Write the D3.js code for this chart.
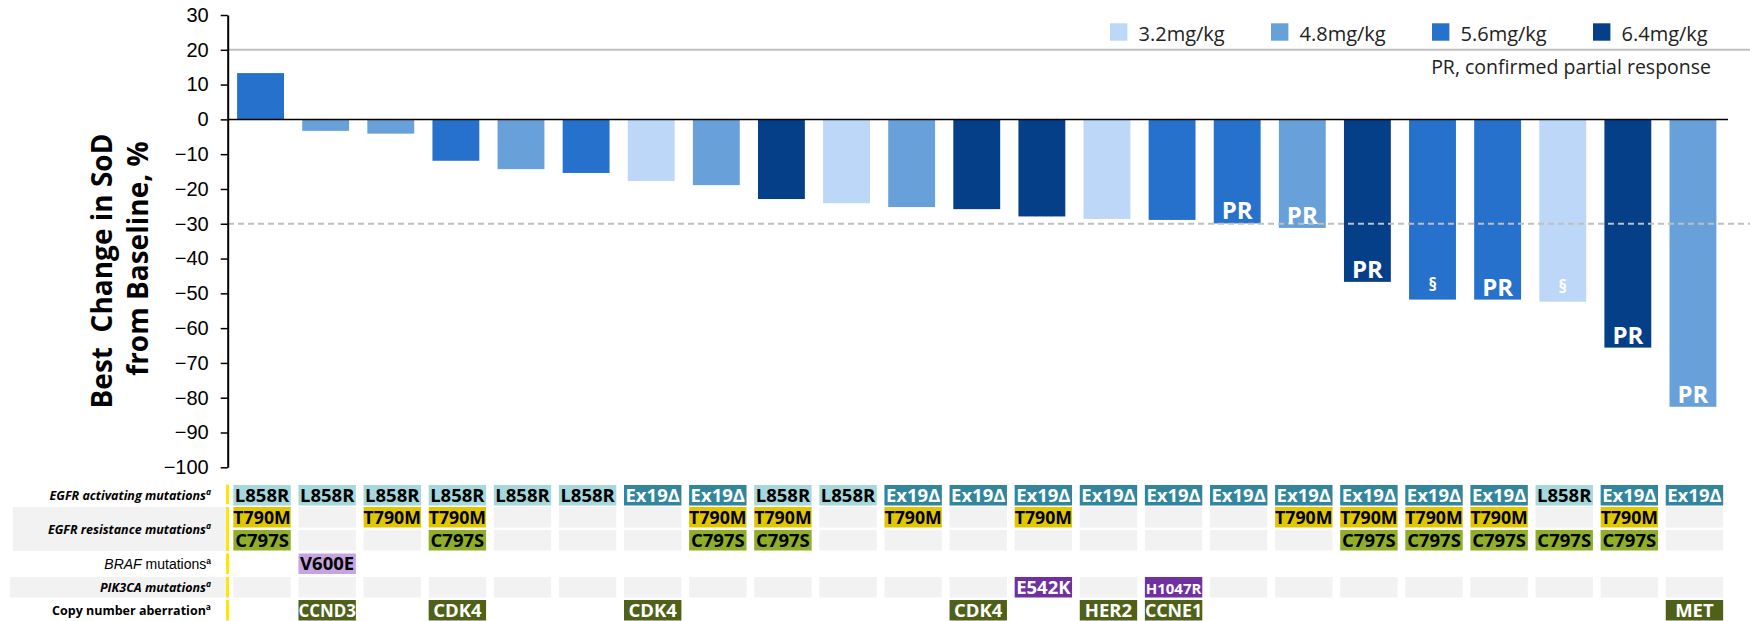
<!DOCTYPE html>
<html lang="en">
  <head>
    <meta charset="UTF-8" />
    <title>Best change in SoD - waterfall</title>
    <style>
      body {
        margin: 0;
        background: #fff;
      }
      svg text {
        font-family: "Open Sans", "Noto Sans", sans-serif;
      }
    </style>
  </head>
  <body>
    <div id="chart"></div>

    <script src="https://cdn.jsdelivr.net/npm/d3@7"></script>

    <script>
      ///////////////////////////////////////////////////////////////////////////
      //////////////////////////////// Data /////////////////////////////////////
      ///////////////////////////////////////////////////////////////////////////

      var changes = [13.3, -3.3, -4.1, -11.9, -14.3, -15.4, -17.7, -18.9, -22.9, -24.1,
        -25.2, -25.8, -27.9, -28.6, -28.9, -29.9, -31.2, -46.7, -51.8, -51.8, -52.4, -65.6, -82.6];
      var doses = ["5.6", "4.8", "4.8", "5.6", "4.8", "5.6", "3.2", "4.8", "6.4", "3.2",
        "4.8", "6.4", "6.4", "3.2", "5.6", "5.6", "4.8", "6.4", "5.6", "5.6", "3.2", "6.4", "4.8"];
      var responses = ["", "", "", "", "", "", "", "", "", "",
        "", "", "", "", "", "PR", "PR", "PR", "§", "PR", "§", "PR", "PR"];

      var activating = ["L858R", "L858R", "L858R", "L858R", "L858R", "L858R", "Ex19Δ", "Ex19Δ", "L858R", "L858R",
        "Ex19Δ", "Ex19Δ", "Ex19Δ", "Ex19Δ", "Ex19Δ", "Ex19Δ", "Ex19Δ", "Ex19Δ", "Ex19Δ", "Ex19Δ", "L858R", "Ex19Δ", "Ex19Δ"];
      var t790m = ["T790M", "", "T790M", "T790M", "", "", "", "T790M", "T790M", "",
        "T790M", "", "T790M", "", "", "", "T790M", "T790M", "T790M", "T790M", "", "T790M", ""];
      var c797s = ["C797S", "", "", "C797S", "", "", "", "C797S", "C797S", "",
        "", "", "", "", "", "", "", "C797S", "C797S", "C797S", "C797S", "C797S", ""];
      var braf = ["", "V600E", "", "", "", "", "", "", "", "",
        "", "", "", "", "", "", "", "", "", "", "", "", ""];
      var pik3ca = ["", "", "", "", "", "", "", "", "", "",
        "", "", "E542K", "", "H1047R", "", "", "", "", "", "", "", ""];
      var cna = ["", "CCND3", "", "CDK4", "", "", "CDK4", "", "", "",
        "", "CDK4", "", "HER2", "CCNE1", "", "", "", "", "", "", "", "MET"];

      var doseLevels = ["3.2", "4.8", "5.6", "6.4"];
      var doseColors = ["#bdd7f8", "#68a0da", "#2571cc", "#053f88"];
      var yTicks = d3.range(30, -101, -10);

      ///////////////////////////////////////////////////////////////////////////
      //////////////////////////////// Set up ///////////////////////////////////
      ///////////////////////////////////////////////////////////////////////////

      var width = 1750,
        height = 621;

      var svg = d3
        .select("#chart")
        .append("svg")
        .attr("width", width)
        .attr("height", height);

      var x = d3
        .scaleBand()
        .domain(d3.range(changes.length))
        .range([228, 1725.5])
        .paddingInner(0.28)
        .paddingOuter(0.14);

      var y = d3.scaleLinear().domain([-100, 30]).range([467.3, 15]);

      var color = d3.scaleOrdinal().domain(doseLevels).range(doseColors);

      //Gridline at +20
      svg
        .append("line")
        .attr("x1", 228)
        .attr("x2", width)
        .attr("y1", y(20))
        .attr("y2", y(20))
        .style("stroke", "#c0c0c0")
        .style("stroke-width", 2);

      ///////////////////////////////////////////////////////////////////////////
      //////////////////////////////// Bars /////////////////////////////////////
      ///////////////////////////////////////////////////////////////////////////

      svg
        .selectAll(".bar")
        .data(changes)
        .enter()
        .append("rect")
        .attr("class", "bar")
        .attr("x", function(d, i) {
          return x(i);
        })
        .attr("width", x.bandwidth())
        .attr("y", function(d) {
          return y(Math.max(0, d));
        })
        .attr("height", function(d) {
          return Math.abs(y(d) - y(0));
        })
        .style("fill", function(d, i) {
          return color(doses[i]);
        });

      //dashed -30% line, drawn over the bars
      svg
        .append("line")
        .attr("x1", 228)
        .attr("x2", width)
        .attr("y1", y(-30))
        .attr("y2", y(-30))
        .style("stroke", "#bfbfbf")
        .style("stroke-width", 2)
        .style("stroke-dasharray", "6,4");

      //zero line
      svg
        .append("line")
        .attr("x1", 228)
        .attr("x2", 1728)
        .attr("y1", y(0))
        .attr("y2", y(0))
        .style("stroke", "#000")
        .style("stroke-width", 1.5);

      //PR / § labels at the bottom of the bars
      responses.forEach(function(r, i) {
        if (!r) return;
        svg
          .append("text")
          .attr("x", x(i) + x.bandwidth() / 2)
          .attr("y", y(changes[i]) - (r === "PR" ? 4 : 9))
          .attr("text-anchor", "middle")
          .style("fill", "#fff")
          .style("font-weight", 700)
          .style("font-size", r === "PR" ? "24px" : "17px")
          .text(r);
      });

      ///////////////////////////////////////////////////////////////////////////
      //////////////////////////////// Axis /////////////////////////////////////
      ///////////////////////////////////////////////////////////////////////////

      var yAxis = svg
        .append("g")
        .attr("transform", "translate(227.7,0)")
        .call(
          d3
            .axisLeft(y)
            .tickValues(yTicks)
            .tickSize(7)
            .tickSizeOuter(0)
            .tickPadding(12)
        );
      yAxis.select(".domain").style("stroke", "#000").style("stroke-width", 2);
      yAxis.selectAll(".tick line").style("stroke", "#000").style("stroke-width", 1.5);
      yAxis
        .selectAll(".tick text")
        .style("font-family", "'Liberation Sans', Arial, sans-serif")
        .style("font-size", "20px")
        .style("fill", "#000");

      //Axis title, two lines
      var titleLines = [
        { text: "Best\u00a0\u00a0Change in SoD", x: 112, y: 271 },
        { text: "from Baseline, %", x: 148, y: 258.5 }
      ];
      svg
        .selectAll(".ytitle")
        .data(titleLines)
        .enter()
        .append("text")
        .attr("class", "ytitle")
        .attr("transform", function(d) {
          return "translate(" + d.x + "," + d.y + ") rotate(-90)";
        })
        .attr("text-anchor", "middle")
        .style("font-size", "28px")
        .style("font-weight", 700)
        .text(function(d) {
          return d.text;
        });

      ///////////////////////////////////////////////////////////////////////////
      /////////////////////////////// Legend ////////////////////////////////////
      ///////////////////////////////////////////////////////////////////////////

      var legend = svg
        .selectAll(".legend")
        .data(doseLevels)
        .enter()
        .append("g")
        .attr("class", "legend")
        .attr("transform", function(d, i) {
          return "translate(" + (1110 + i * 161) + ",23.3)";
        });
      legend
        .append("rect")
        .attr("width", 17.4)
        .attr("height", 17.4)
        .style("fill", function(d) {
          return color(d);
        });
      legend
        .append("text")
        .attr("x", 28.5)
        .attr("y", 17.5)
        .style("font-size", "20px")
        .style("fill", "#222")
        .text(function(d) {
          return d + "mg/kg";
        });

      svg
        .append("text")
        .attr("x", 1711)
        .attr("y", 74)
        .attr("text-anchor", "end")
        .style("font-size", "19.5px")
        .style("fill", "#222")
        .text("PR, confirmed partial response");

      ///////////////////////////////////////////////////////////////////////////
      ////////////////////////// Mutation annotation ////////////////////////////
      ///////////////////////////////////////////////////////////////////////////

      var cellW = 57.4,
        cellH = 20.5;

      var rows = [
        { values: activating, top: 485, empty: null },
        { values: t790m, top: 507, empty: "#f2f2f2" },
        { values: c797s, top: 530, empty: "#f2f2f2" },
        { values: braf, top: 553.5, empty: null },
        { values: pik3ca, top: 577, empty: "#f2f2f2" },
        { values: cna, top: 600, empty: null }
      ];

      var cellStyle = {
        L858R: { bg: "#a5d8dc", fg: "#000" },
        "Ex19Δ": { bg: "#31859c", fg: "#fff" },
        T790M: { bg: "#e0c700", fg: "#000" },
        C797S: { bg: "#8fae29", fg: "#000" },
        V600E: { bg: "#c8a3e2", fg: "#000" },
        E542K: { bg: "#7030a0", fg: "#fff" },
        H1047R: { bg: "#7030a0", fg: "#fff" },
        CCND3: { bg: "#4f6119", fg: "#fff" },
        CDK4: { bg: "#4f6119", fg: "#fff" },
        HER2: { bg: "#4f6119", fg: "#fff" },
        CCNE1: { bg: "#4f6119", fg: "#fff" },
        MET: { bg: "#4f6119", fg: "#fff" }
      };

      //row label backgrounds
      svg
        .append("rect")
        .attr("x", 12.7)
        .attr("y", 507)
        .attr("width", 214)
        .attr("height", 44)
        .style("fill", "#f2f2f2");
      svg
        .append("rect")
        .attr("x", 10)
        .attr("y", 577)
        .attr("width", 216)
        .attr("height", 20.5)
        .style("fill", "#f2f2f2");

      //yellow separators
      [[484.5, 19.5], [507, 44], [553.5, 20.5], [577, 20.5], [600, 20.5]].forEach(function(s) {
        svg
          .append("rect")
          .attr("x", 226)
          .attr("y", s[0])
          .attr("width", 3)
          .attr("height", s[1])
          .style("fill", "#ffe800");
      });

      rows.forEach(function(row) {
        var g = svg.append("g");
        row.values.forEach(function(v, i) {
          var cx = x(i) + x.bandwidth() / 2 + 1.5;
          if (!v) {
            if (row.empty) {
              g.append("rect")
                .attr("x", cx - cellW / 2)
                .attr("y", row.top)
                .attr("width", cellW)
                .attr("height", cellH)
                .style("fill", row.empty);
            }
            return;
          }
          var st = cellStyle[v];
          g.append("rect")
            .attr("x", cx - cellW / 2)
            .attr("y", row.top)
            .attr("width", cellW)
            .attr("height", cellH)
            .style("fill", st.bg);
          var t = g
            .append("text")
            .attr("x", cx)
            .attr("y", row.top + cellH / 2 + 6.5)
            .attr("text-anchor", "middle")
            .style("font-size", v === "H1047R" ? "15px" : "18.5px")
            .style("font-weight", 700)
            .style("fill", st.fg)
            .text(v);
          //squeeze long labels into the cell
          if (t.node().getComputedTextLength() > cellW) {
            t.attr("textLength", cellW).attr("lengthAdjust", "spacingAndGlyphs");
          }
        });
      });

      //row labels
      var labels = [
        { y: 499.5, parts: [{ t: "EGFR activating mutations", s: "italic", w: 700 }], sup: "italic" },
        { y: 533.5, parts: [{ t: "EGFR resistance mutations", s: "italic", w: 700 }], sup: "italic" },
        {
          y: 568.5,
          parts: [
            { t: "BRAF", s: "italic", w: 400, f: "'Liberation Sans', Arial, sans-serif" },
            { t: " mutations", s: "normal", w: 400, f: "'Liberation Sans', Arial, sans-serif" }
          ],
          sup: "normal",
          supFont: "'Liberation Sans', Arial, sans-serif",
          size: "14px"
        },
        { y: 591.5, parts: [{ t: "PIK3CA mutations", s: "italic", w: 700 }], sup: "italic" },
        { y: 614.5, parts: [{ t: "Copy number aberration", s: "normal", w: 700 }], sup: "normal" }
      ];

      labels.forEach(function(l) {
        var t = svg
          .append("text")
          .attr("x", 211)
          .attr("y", l.y)
          .attr("text-anchor", "end")
          .style("font-size", l.size || "12.5px")
          .style("fill", "#000");
        l.parts.forEach(function(p) {
          var ts = t
            .append("tspan")
            .style("font-style", p.s)
            .style("font-weight", p.w)
            .text(p.t);
          if (p.f) ts.style("font-family", p.f);
        });
        var sp = t
          .append("tspan")
          .attr("dy", -5)
          .style("font-size", "8.5px")
          .style("font-style", l.sup)
          .style("font-weight", 700)
          .text("a");
        if (l.supFont) sp.style("font-family", l.supFont);
      });
    </script>
  </body>
</html>
